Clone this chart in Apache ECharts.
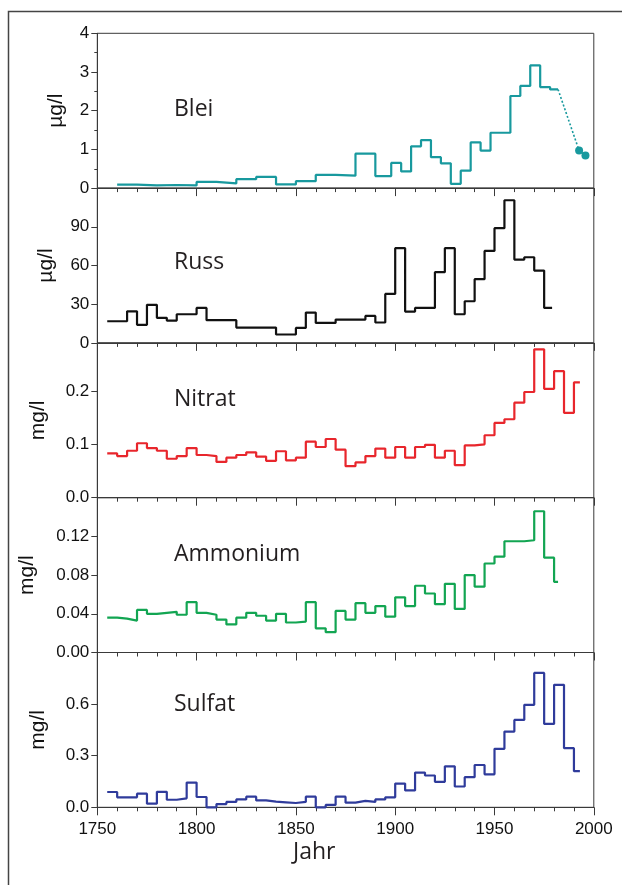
<!DOCTYPE html>
<html>
<head>
<meta charset="utf-8">
<script src="https://cdn.jsdelivr.net/npm/echarts@6/dist/echarts.min.js"></script>
<style>
html,body{margin:0;padding:0;background:#fff;}
#chart{width:622px;height:885px;}
</style>
</head>
<body>
<div id="chart"></div>
<script>
// ---- Data (step segments: years are breakpoints, values hold between them) ----
const bleiYears = [1760,1770,1780,1790,1800,1810,1820,1830,1840,1850,1860,1870,1880,1890,1898,1903,1908,1913,1918,1923,1928,1933,1938,1943,1948,1958,1963,1968,1973,1978,1982];
const bleiValues = [0.09,0.07,0.08,0.07,0.16,0.12,0.23,0.29,0.095,0.18,0.34,0.32,0.89,0.31,0.65,0.43,1.08,1.24,0.80,0.64,0.11,0.45,1.18,0.97,1.43,2.38,2.64,3.17,2.61,2.55];
const bleiRecentYears = [1982,1992.6,1995.8];
const bleiRecentValues = [2.55,0.97,0.84];

const russYears = [1755,1765,1770,1775,1780,1785,1790,1800,1805,1820,1840,1850,1855,1860,1870,1885,1890,1895,1900,1905,1910,1920,1925,1930,1935,1940,1945,1950,1955,1960,1965,1970,1975,1979];
const russValues = [16.8,24.5,14,29.5,19.4,17.3,22.2,27.1,17.6,11.9,6.5,11.6,23.5,15.5,18.1,20.9,15.8,38,73.4,24.3,27.1,54.8,73.4,22.2,32.3,49.4,71.3,88.9,110.6,64.6,66.4,56.1,27.1];

const nitratYears = [1755,1760,1765,1770,1775,1780,1785,1790,1795,1800,1805,1810,1815,1820,1825,1830,1835,1840,1845,1850,1855,1860,1865,1870,1875,1880,1885,1890,1895,1900,1905,1910,1915,1920,1925,1930,1935,1940,1945,1950,1955,1960,1965,1970,1975,1980,1985,1990,1993];
const nitratValues = [0.083,0.078,0.088,0.102,0.093,0.088,0.073,0.078,0.093,0.080,0.078,0.067,0.075,0.080,0.085,0.077,0.069,0.087,0.070,0.075,0.105,0.095,0.110,0.090,0.059,0.066,0.078,0.092,0.075,0.095,0.075,0.095,0.099,0.075,0.088,0.061,0.098,0.100,0.117,0.140,0.147,0.178,0.198,0.278,0.204,0.237,0.159,0.216];

const ammoniumYears = [1755,1760,1765,1770,1775,1780,1790,1795,1800,1805,1810,1815,1820,1825,1830,1835,1840,1845,1850,1855,1860,1865,1870,1875,1880,1885,1890,1895,1900,1905,1910,1915,1920,1925,1930,1935,1940,1945,1950,1955,1965,1970,1975,1980,1982];
const ammoniumValues = [0.036,0.035,0.033,0.044,0.040,0.042,0.039,0.052,0.041,0.039,0.034,0.029,0.036,0.041,0.038,0.033,0.040,0.031,0.032,0.052,0.025,0.021,0.043,0.034,0.051,0.041,0.048,0.037,0.057,0.048,0.069,0.061,0.050,0.071,0.045,0.080,0.068,0.092,0.099,0.115,0.116,0.146,0.098,0.073];

const sulfatYears = [1755,1760,1770,1775,1780,1785,1790,1795,1800,1805,1810,1815,1820,1825,1830,1835,1840,1845,1850,1855,1860,1865,1870,1875,1880,1885,1890,1895,1900,1905,1910,1915,1920,1925,1930,1935,1940,1945,1950,1955,1960,1965,1970,1975,1980,1985,1990,1993];
const sulfatValues = [0.089,0.058,0.079,0.021,0.090,0.044,0.052,0.144,0.060,0.0,0.019,0.031,0.046,0.062,0.040,0.033,0.029,0.025,0.031,0.062,0.0,0.014,0.062,0.027,0.037,0.031,0.046,0.058,0.138,0.098,0.202,0.185,0.148,0.238,0.121,0.175,0.246,0.192,0.340,0.440,0.508,0.596,0.781,0.485,0.712,0.344,0.210];

const panelNames = ['Blei','Russ','Nitrat','Ammonium','Sulfat'];
const unitNames = ['µg/l','µg/l','mg/l','mg/l','mg/l'];
const xTickYears = [1750,1800,1850,1900,1950,2000];

// ---- Build ----
function stepData(years, values){
  const d = values.map((v,i)=>[years[i], v]);
  d.push([years[years.length-1], values[values.length-1]]);
  return d;
}

const panels = [
  {years:bleiYears, values:bleiValues, color:'#18999e', min:0, max:4, interval:1, minor:2, dec:0, gap:31, nameCapOff:69},
  {years:russYears, values:russValues, color:'#111111', min:0, max:120, interval:30, minor:0, dec:0, gap:41, nameCapOff:67},
  {years:nitratYears, values:nitratValues, color:'#e8262c', min:0, max:0.29, interval:0.1, minor:0, dec:1, gap:49, nameCapOff:49},
  {years:ammoniumYears, values:ammoniumValues, color:'#12a552', min:0, max:0.16, interval:0.04, minor:0, dec:2, gap:60, nameCapOff:49},
  {years:sulfatYears, values:sulfatValues, color:'#2f3b9b', min:0, max:0.9, interval:0.3, minor:0, dec:1, gap:49, nameCapOff:44}
];

const top0 = 33.3, ph = 154.8, gl = 97.3, gw = 496.5;
const axisCol = '#3a3a3a';
const grids = [], xAxes = [], yAxes = [], series = [], graphics = [];

panels.forEach((p, i) => {
  const top = top0 + i*ph;
  grids.push({left: gl, top: top, width: gw, height: ph, show: true, borderColor: axisCol, borderWidth: 1, backgroundColor:'transparent'});
  const last = i === panels.length-1;
  xAxes.push({
    type:'value', gridIndex:i, min:1750, max:2000, interval:50,
    axisLine:{show:true, onZero:false, lineStyle:{color:axisCol, width:1}},
    axisTick:{show:true, inside:false, length:8, lineStyle:{color:axisCol}},
    minorTick:{show:true, splitNumber:5, length:4, lineStyle:{color:axisCol}},
    splitLine:{show:false},
    axisLabel:{show:last, margin:14, color:'#111', fontFamily:'Liberation Sans', fontSize:17,
      formatter: v => xTickYears.indexOf(v) >= 0 ? String(v) : ''}
  });
  yAxes.push({
    type:'value', gridIndex:i, min:p.min, max:p.max, interval:p.interval,
    name: unitNames[i], nameLocation:'middle', nameRotate:90, nameGap:p.gap,
    nameTextStyle:{fontFamily:'Liberation Sans', fontSize:21, color:'#111'},
    axisLine:{show:true, lineStyle:{color:axisCol, width:1}},
    axisTick:{show:true, inside:false, length:6, lineStyle:{color:axisCol}},
    minorTick:{show:p.minor>0, splitNumber:p.minor||5, length:3, lineStyle:{color:axisCol}},
    splitLine:{show:false},
    axisLabel:{margin:8, color:'#111', fontFamily:'Liberation Sans', fontSize:17,
      showMaxLabel: i === 0,
      formatter: v => v.toFixed(p.dec)}
  });
  series.push({
    type:'line', xAxisIndex:i, yAxisIndex:i, step:'end', showSymbol:false, clip:false,
    data: stepData(p.years, p.values),
    lineStyle:{color:p.color, width:2.2}, itemStyle:{color:p.color}
  });
  graphics.push({type:'text', left:174, top: top + p.nameCapOff - 4,
    style:{text: panelNames[i], font:'23px "Open Sans"', fill:'#231f20'}});
});

// recent Blei measurements (dotted, with dots)
series.push({
  type:'line', xAxisIndex:0, yAxisIndex:0, clip:false, showSymbol:true, symbol:'circle', symbolSize:8,
  data: bleiRecentYears.map((y,i)=> i===0 ? {value:[y, bleiRecentValues[i]], symbol:'none'} : [y, bleiRecentValues[i]]),
  lineStyle:{color:'#18999e', width:1.6, type:[2,2]}, itemStyle:{color:'#18999e'}
});

graphics.push({type:'text', left:293, top:841, style:{text:'Jahr', font:'23px "Open Sans"', fill:'#231f20'}});
graphics.push({type:'rect', shape:{x:8.5, y:11.5, width:700, height:1000}, style:{fill:'none', stroke:'#444', lineWidth:1.5}, z:-1});

const chart = echarts.init(document.getElementById('chart'), null, {renderer:'canvas'});
chart.setOption({
  animation:false,
  backgroundColor:'#ffffff',
  grid: grids, xAxis: xAxes, yAxis: yAxes, series: series,
  graphic: graphics
});
</script>
</body>
</html>
